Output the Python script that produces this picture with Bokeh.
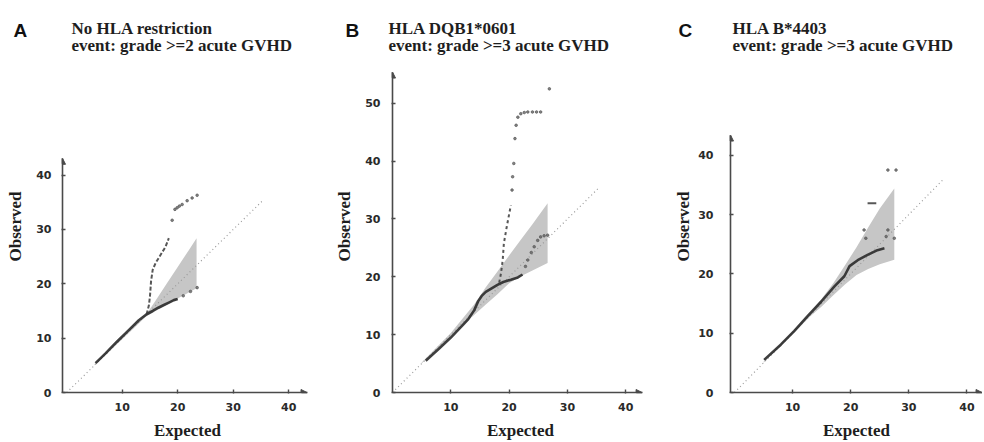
from bokeh.plotting import figure
from bokeh.layouts import row, column
from bokeh.models import Range1d, FixedTicker, Arrow, NormalHead
from bokeh.core.properties import value
from bokeh.embed import file_html
from bokeh.resources import INLINE

# ---------------- data ----------------
panel_letters = ["A", "B", "C"]
title_line1 = ["No HLA restriction", "HLA DQB1*0601", "HLA B*4403"]
title_line2 = ["event: grade >=2 acute GVHD",
               "event: grade >=3 acute GVHD",
               "event: grade >=3 acute GVHD"]
x_label = "Expected"
y_label = "Observed"
x_ticks = [10, 20, 30, 40]
y_ticks_a = [0, 10, 20, 30, 40]
y_ticks_b = [0, 10, 20, 30, 40, 50]
y_ticks_c = [0, 10, 20, 30, 40]

# reference diagonal (expected == observed)
diag_a = [0, 35.5]
diag_b = [0, 35.3]
diag_c = [0, 36.0]

# Panel A: no HLA restriction
a_band_x = [5, 10, 14.3, 16, 18, 20, 22, 23.4]
a_band_lo = [5.0, 9.8, 14.0, 15.0, 16.1, 17.3, 18.4, 19.2]
a_band_hi = [5.2, 10.3, 14.3, 16.9, 20.0, 23.1, 26.2, 28.4]
a_obs_x = [5.2, 7.0, 9.0, 11.0, 13.0, 14.4, 15.5, 16.5, 17.5, 18.5, 19.3, 20.0]
a_obs_y = [5.4, 7.2, 9.3, 11.3, 13.3, 14.4, 15.0, 15.6, 16.1, 16.6, 17.0, 17.2]
a_up_x = [14.4, 14.8, 15.0, 15.2, 15.5, 16.0, 16.9, 17.8, 18.4]
a_up_y = [14.4, 16.0, 17.7, 20.5, 22.6, 23.8, 25.3, 26.8, 28.4]
a_pts_x = [19.0, 19.5, 19.9, 20.3, 20.8, 21.7, 22.6, 23.5, 21.0, 22.3, 23.5]
a_pts_y = [31.7, 33.7, 34.0, 34.3, 34.6, 35.3, 35.8, 36.3, 17.8, 18.6, 19.3]

# Panel B: HLA DQB1*0601
b_band_x = [5, 10, 14, 16, 18, 20, 22, 24, 26.6]
b_band_lo = [5.0, 9.8, 13.4, 15.2, 17.0, 18.9, 20.1, 21.1, 22.4]
b_band_hi = [5.2, 10.3, 15.2, 18.2, 20.9, 23.7, 26.4, 29.1, 32.7]
b_obs_x = [5.7, 8.0, 10.0, 12.0, 13.0, 14.0, 14.7, 15.3, 16.0, 17.0, 18.0, 19.0, 20.3, 21.5, 22.3]
b_obs_y = [5.5, 7.6, 9.5, 11.6, 12.7, 14.2, 15.8, 16.7, 17.4, 18.0, 18.6, 19.1, 19.5, 19.9, 20.4]
b_up_x = [18.3, 18.6, 18.9, 19.1, 19.6, 20.3]
b_up_y = [19.0, 20.6, 22.9, 25.8, 28.7, 32.4]
b_pts_x = [20.5, 20.6, 20.8, 21.0, 21.2, 21.5, 22.0, 22.6, 23.2, 24.0, 24.7, 25.4, 26.9,
           22.8, 23.2, 23.8, 24.3, 24.9, 25.4, 26.0, 26.6]
b_pts_y = [35.0, 37.3, 39.6, 43.9, 46.2, 47.6, 48.2, 48.4, 48.5, 48.5, 48.5, 48.5, 52.5,
           21.8, 22.9, 24.2, 25.2, 26.3, 26.9, 27.1, 27.2]

# Panel C: HLA B*4403
c_band_x = [5, 10, 13, 15, 17, 19, 21, 23, 25, 27.5]
c_band_lo = [5.0, 9.8, 12.8, 14.5, 16.4, 18.2, 19.8, 20.8, 21.6, 22.4]
c_band_hi = [5.2, 10.3, 13.4, 15.8, 18.4, 21.4, 24.5, 27.8, 31.0, 34.4]
c_obs_x = [5.1, 8.0, 10.3, 12.5, 14.9, 17.2, 18.9, 19.8, 21.2, 22.9, 24.6, 25.8]
c_obs_y = [5.5, 8.1, 10.4, 12.8, 15.3, 17.9, 19.6, 21.3, 22.3, 23.2, 24.0, 24.3]
c_up_x = [22.9, 24.4]
c_up_y = [31.9, 31.9]
c_pts_x = [22.3, 22.6, 26.1, 26.4, 27.5, 26.4, 27.8]
c_pts_y = [27.4, 26.0, 26.3, 27.4, 26.0, 37.5, 37.5]

# ---------------- styling / layout ----------------
SERIF = "Liberation Serif"
SANS = "DejaVu Sans"
INK = "#1e1e1e"
AXIS = "#4a4a4a"
BAND = "#c6c6c6"
HEAD_H = 60
PLOT_H = 382
TOTAL_W = 982

# header positions (pixels from the page's left edge, baseline heights)
letter_pos_x = [13, 345, 678]
title_pos_x = [71, 388, 732]

panels = [
    dict(w=330, bl=62, br=18, x0=-0.76, x1=44.29, y1=61.1, xb=43.3, yb=43.1,
         yt=y_ticks_a, diag=diag_a, lstand=10, astand=8,
         band=(a_band_x, a_band_lo, a_band_hi), obs=(a_obs_x, a_obs_y),
         up=(a_up_x, a_up_y), pts=(a_pts_x, a_pts_y), dash="4 2"),
    dict(w=338, bl=62, br=20, x0=0.0, x1=43.9, y1=57.4, xb=42.8, yb=55.4,
         yt=y_ticks_b, diag=diag_b, lstand=11, astand=8,
         band=(b_band_x, b_band_lo, b_band_hi), obs=(b_obs_x, b_obs_y),
         up=(b_up_x, b_up_y), pts=(b_pts_x, b_pts_y), dash="3 3"),
    dict(w=314, bl=62, br=0, x0=-0.69, x1=42.68, y1=55.97, xb=42.6, yb=43.4,
         yt=y_ticks_c, diag=diag_c, lstand=16, astand=2,
         band=(c_band_x, c_band_lo, c_band_hi), obs=(c_obs_x, c_obs_y),
         up=(c_up_x, c_up_y), pts=(c_pts_x, c_pts_y), dash="solid"),
]

# ---- header across all panels: letters and two-line titles ----
h = figure(width=TOTAL_W, height=HEAD_H, title=None,
           x_range=Range1d(0, TOTAL_W), y_range=Range1d(0, HEAD_H),
           x_axis_location=None, y_axis_location=None,
           output_backend="svg", toolbar_location=None, min_border=0)
h.outline_line_color = None
h.grid.visible = False
h.text(x=letter_pos_x, y=[30.5] * 3, text=panel_letters,
       text_font=value("Liberation Sans"), text_font_style="bold",
       text_font_size="19px", text_color="#111111", text_baseline="alphabetic")
h.text(x=title_pos_x, y=[32.5] * 3, text=title_line1,
       text_font=value(SERIF), text_font_style="bold",
       text_font_size="17px", text_color=INK, text_baseline="alphabetic")
h.text(x=title_pos_x, y=[15.0] * 3, text=title_line2,
       text_font=value(SERIF), text_font_style="bold",
       text_font_size="17px", text_color=INK, text_baseline="alphabetic")

figs = []
for i, cfg in enumerate(panels):
    p = figure(width=cfg["w"], height=PLOT_H, title=None,
               x_range=Range1d(cfg["x0"], cfg["x1"]), y_range=Range1d(0, cfg["y1"]),
               output_backend="svg", toolbar_location=None,
               min_border_left=cfg["bl"], min_border_right=cfg["br"],
               min_border_top=0, min_border_bottom=PLOT_H - 333)
    p.outline_line_color = None
    p.grid.visible = False
    p.background_fill_color = "white"
    p.border_fill_color = "white"

    for ax in (p.xaxis[0], p.yaxis[0]):
        ax.axis_line_color = AXIS
        ax.axis_line_width = 1.6
        ax.major_tick_line_color = AXIS
        ax.major_tick_line_width = 1.4
        ax.major_tick_in = 3
        ax.major_tick_out = 1
        ax.minor_tick_line_color = None
        ax.major_label_text_font = SANS
        ax.major_label_text_font_style = "bold"
        ax.major_label_text_font_size = "11px"
        ax.major_label_text_color = "#2a2a2a"
        ax.axis_label_text_font = SERIF
        ax.axis_label_text_font_style = "bold"
        ax.axis_label_text_font_size = "17px"
        ax.axis_label_text_color = INK
    p.xaxis.ticker = FixedTicker(ticks=x_ticks)
    p.yaxis.ticker = FixedTicker(ticks=cfg["yt"])
    p.xaxis.bounds = (cfg["x0"], cfg["xb"])
    p.yaxis.bounds = (0, cfg["yb"])
    p.xaxis.axis_label = x_label
    p.yaxis.axis_label = y_label
    p.xaxis.major_label_standoff = 9
    p.xaxis.axis_label_standoff = 7
    p.yaxis.major_label_standoff = cfg["lstand"]
    p.yaxis.axis_label_standoff = cfg["astand"]

    # arrow heads at the axis ends
    p.add_layout(Arrow(end=NormalHead(size=6, fill_color=AXIS, line_color=AXIS),
                       x_start=cfg["xb"] - 1.0, y_start=0, x_end=cfg["xb"], y_end=0,
                       line_color=AXIS, line_width=1.6))
    p.add_layout(Arrow(end=NormalHead(size=6, fill_color=AXIS, line_color=AXIS),
                       x_start=cfg["x0"], y_start=cfg["yb"] - 1.0, x_end=cfg["x0"], y_end=cfg["yb"],
                       line_color=AXIS, line_width=1.6))

    bx, blo, bhi = cfg["band"]
    p.varea(x=bx, y1=blo, y2=bhi, fill_color=BAND, fill_alpha=1.0)

    p.line(cfg["diag"], cfg["diag"], line_color="#9a9a9a", line_width=1.2, line_dash="1 3")

    ox, oy = cfg["obs"]
    p.line(ox, oy, line_color="#2a2a2a", line_width=2.6, line_alpha=0.9)
    ux, uy = cfg["up"]
    p.line(ux, uy, line_color="#3a3a3a", line_width=2.0, line_dash=cfg["dash"], line_alpha=0.85)
    px_, py_ = cfg["pts"]
    p.scatter(px_, py_, size=2.6, color="#5a5a5a", alpha=0.75, marker="circle")

    figs.append(p)

layout = column(h, row(*figs))
open("out.html", "w").write(file_html(layout, INLINE))
